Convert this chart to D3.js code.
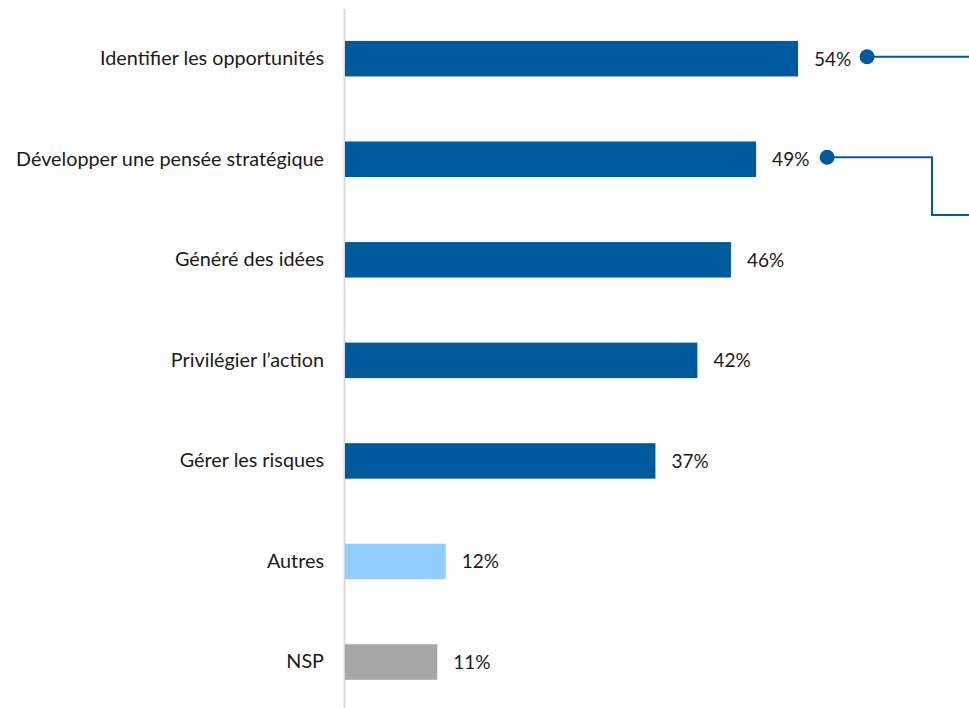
<!DOCTYPE html>
<html>
<head>
<meta charset="utf-8">
<script src="https://cdn.jsdelivr.net/npm/d3@7"></script>
<style>
  html, body { margin: 0; padding: 0; background: #fff; }
  svg { display: block; }
  text { font-family: Lato, "Open Sans", sans-serif; fill: #1a1a1a; }
</style>
</head>
<body>
<svg id="chart" width="969" height="708"></svg>
<script>
const categories = [
  "Identifier les opportunités",
  "Développer une pensée stratégique",
  "Généré des idées",
  "Privilégier l’action",
  "Gérer les risques",
  "Autres",
  "NSP"
];
const values = [54, 49, 46, 42, 37, 12, 11];
const barColors = ["#005A9E", "#005A9E", "#005A9E", "#005A9E", "#005A9E", "#8FCEFF", "#A6A6A6"];
const calloutCategories = ["Identifier les opportunités", "Développer une pensée stratégique"];

const W = 969, H = 708;
const svg = d3.select("#chart");

const x = d3.scaleLinear().domain([0, 100]).range([345, 345 + 839]);
const y = d3.scaleBand().domain(categories).range([8.4, 712.3]).paddingInner(0.647).paddingOuter(0.3235);

// axis (category labels + vertical line)
const axis = d3.axisLeft(y).tickSize(0).tickSizeOuter(0).tickPadding(20);
const gAxis = svg.append("g").attr("transform", "translate(344,0)").call(axis);
gAxis.select(".domain").attr("stroke", "#d9d9d9").attr("stroke-width", 2);
gAxis.selectAll("text").style("font-family", "Lato, 'Open Sans', sans-serif").style("font-size", "19.8px").attr("fill", "#1a1a1a");

const data = categories.map((c, i) => ({ c, v: values[i], col: barColors[i] }));

svg.append("g").selectAll("rect").data(data).join("rect")
  .attr("x", x(0))
  .attr("y", d => y(d.c))
  .attr("width", d => x(d.v) - x(0))
  .attr("height", y.bandwidth())
  .attr("fill", d => d.col);

svg.append("g").selectAll("text").data(data).join("text")
  .attr("x", d => x(d.v) + 16)
  .attr("y", d => y(d.c) + y.bandwidth() / 2)
  .attr("dy", "0.36em")
  .style("font-size", "19px")
  .text(d => d.v + "%");

// callouts
const blue = "#005A9E";
const c1 = data[0], c2 = data[1];
const g = svg.append("g");
const y1 = y(c1.c) + y.bandwidth() / 2 - 2;
const x1 = x(c1.v) + 69;
g.append("path").attr("d", `M${x1},${y1}H${W}`).attr("stroke", blue).attr("stroke-width", 2).attr("fill", "none");
g.append("circle").attr("cx", x1).attr("cy", y1).attr("r", 7.5).attr("fill", blue);

const y2 = y(c2.c) + y.bandwidth() / 2 - 2;
const x2 = x(c2.v) + 71;
g.append("path").attr("d", `M${x2},${y2}H932V215H${W}`).attr("stroke", blue).attr("stroke-width", 2).attr("fill", "none");
g.append("circle").attr("cx", x2).attr("cy", y2).attr("r", 7.5).attr("fill", blue);
</script>
</body>
</html>
